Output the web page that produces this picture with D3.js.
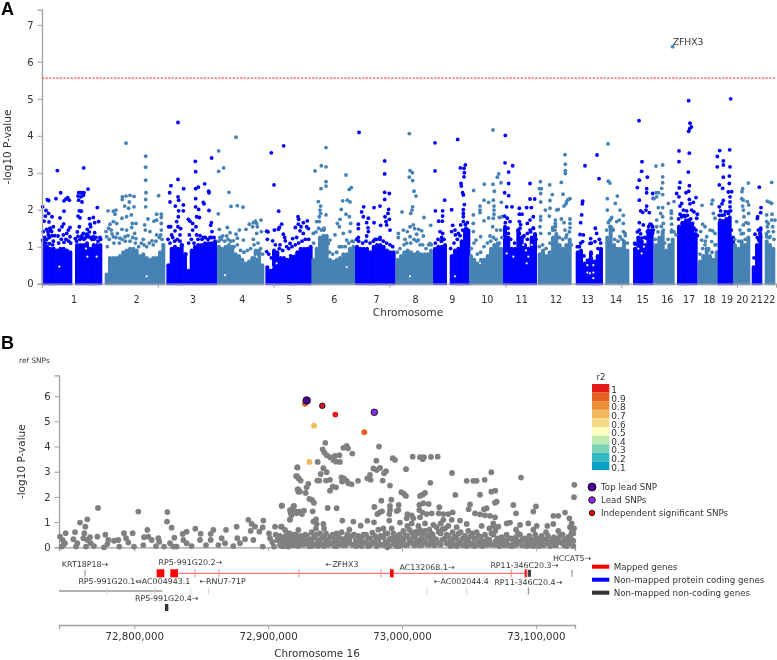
<!DOCTYPE html>
<html>
<head>
<meta charset="utf-8">
<script src="https://cdn.jsdelivr.net/npm/d3@7"></script>
<style>
  html, body { margin: 0; padding: 0; background: #fff; }
  svg { display: block; font-family: "DejaVu Sans", sans-serif; filter: blur(0.3px); }
  text { fill: #333; }
</style>
</head>
<body>
<svg id="chart" width="777" height="660"></svg>
<script>
const mbPerUnit = 500 / 347.5;
const bpPerUnit = 249;
const locusStart = 72743760;

const chromNames = ['1','2','3','4','5','6','7','8','9','10','11','12','13','14','15','16','17','18','19','20','21','22'];
const chromLabelPos = [96,284,453,601,742,877,1004,1121,1231,1336,1439,1542,1637,1722,1802,1876,1941,2002,2055,2101,2144,2182];
const chromStart = [0,189,374,526,671,809,940,1062,1174,1282,1384,1488,1602,1691,1774,1837,1906,1969,2028,2074,2130,2169];

// top of the solid mass of points, every 10 units along each chromosome
const denseTops = [
  [1.15,1.0,.95,.95,.9,.95,.95,.9,.85,0,1.05,1.05,1.05,1.1,.95,1.05,1.05,1.05],
  [0.25,0.7,0.7,0.7,0.75,0.85,0.9,0.95,0.95,0.9,0.75,0.8,0.7,0.65,0.7,0.7,0.85,1.05],
  [0.5,0.95,1.0,.95,1.05,0.8,0.35,0.9,1.0,1.05,1.05,1.1,1.1,1.1,1.15],
  [1.0,.95,1.0,1.05,1.0,0.8,0.75,0.65,0.55,0.6,0.7,0.9,0.9,0.5],
  [0.45,0.35,0.9,0.85,0.7,0.7,0.65,0.75,0.75,0.85,.95,.95,.95,1.0],
  [0.65,.95,1.25,1.3,1.3,0.65,0.6,0.65,0.7,0.8,0.8,.95,1.0],
  [1.0,.95,.95,.95,0.85,1.0,1.05,1.05,1.0,0.9,0.85,0.85],
  [0.65,0.75,0.85,0.9,0.85,0.8,0.85,0.8,0.8,0.8,0.9],
  [.95,1.0,1.0,1.05,0,0.75,0.9,.95,1.15,1.45,1.45],
  [0.75,0.65,0.55,0.65,0.65,0.75,.95,1.05,1.1,.95],
  [1.5,1.25,.95,.95,1.45,1.25,1.05,.95,1.25,1.35],
  [0.8,0.9,0.75,0.85,1.25,1.35,1.05,.95,1.05,1.2],
  [0.85,0.9,0.55,0.65,0.85,0.6,0.75,.95],
  [1.25,1.55,1.05,.95,.95,1.15,0.9],
  [.95,1.25,1.15,1.05,1.45,1.45],
  [1.05,1.25,1.4,0.9,1.05,1.2],
  [1.55,1.65,1.7,1.7,1.55,1.35],
  [0.6,0.75,.95,0.75,0.65,0.85],
  [1.65,1.7,1.75,1.8,1.25],
  [1.05,.95,1.15,1.05,1.25],
  [0.45,1.05,1.35],
  [1.15,1.05,.95]
];

// little white gaps inside the mass: [position, -log10 p]
const massHoles = [[52,.46],[132,.95],[136,.73],[164,.73],[314,.2],[549,.23],[634,.95],[644,.73],[704,.55],[734,.9],[739,.72],[754,.8],[914,.45],[684,.8],[689,.45],[1104,.2],[1239,.2],[1314,.55],[1414,.73],[1444,1.05],[1452,.9],[1459,.73],[1469,1.05],[1454,.55],[1394,.82],[1636,1.1],[1636,.9],[1636,.7],[1636,.5],[1636,.3],[1654,1.0],[1654,.75],[1654,.5],[1654,.3],[1654,.15],[1644,.28],[1799,.82],[1789,.95],[1806,1.0]];

// individual points standing clear of the mass: [position, -log10 p]
const chr1Snps = [[46,3.06],[2,2.08],[16,2.27],[20,2.25],[42,2.3],[56,2.46],[66,2.24],[72,2.29],[77,2.33],[82,2.26],[12,1.98],[20,1.9],[30,1.81],[10,1.83],[66,1.96],[54,1.78],[6,1.69],[21,1.67],[65,1.62],[60,1.54],[34,1.54],[24,1.5],[14,1.47],[4,1.41],[52,1.45],[79,1.45],[84,1.52],[74,1.36],[48,1.29],[29,1.41],[19,1.32],[84,1.27],[2,1.18],[64,1.32],[125,3.13],[138,2.56],[166,2.06],[110,2.46],[116,2.46],[120,2.46],[126,2.46],[108,2.37],[117,2.35],[124,2.39],[110,2.26],[120,2.21],[112,1.97],[118,1.96],[108,1.83],[114,1.78],[154,1.79],[142,1.76],[170,1.68],[158,1.65],[144,1.61],[136,1.47],[146,1.54],[112,1.54],[106,1.4],[124,1.36],[142,1.4],[134,1.34],[158,1.38],[119,1.25],[174,1.25],[100,1.22],[154,1.27],[8,1.25],[14,1.2],[18,1.4],[22,1.25],[26,1.45],[30,1.3],[34,1.15],[38,1.3],[12,1.1],[22,1.08],[32,1.05],[50,1.1],[58,1.2],[66,1.12],[72,1.2],[80,1.15],[86,1.1],[104,1.15],[108,1.28],[114,1.2],[120,1.3],[126,1.2],[132,1.25],[138,1.3],[144,1.25],[150,1.2],[156,1.2],[162,1.25],[168,1.15],[176,1.2]];
const chr2Snps = [[252,3.8],[311,3.45],[311,3.15],[311,2.8],[312,2.46],[311,2.28],[311,2.08],[350,2.38],[241,2.35],[241,2.28],[252,2.37],[264,2.39],[276,2.36],[262,2.21],[248,2.1],[276,2.08],[260,2.04],[198,1.97],[214,1.96],[222,1.99],[219,1.88],[344,1.88],[358,1.88],[358,1.79],[344,1.72],[318,1.75],[254,1.81],[240,1.77],[268,1.86],[271,1.63],[282,1.63],[336,1.69],[308,1.59],[214,1.68],[224,1.63],[204,1.61],[192,1.41],[200,1.5],[208,1.45],[226,1.36],[240,1.47],[254,1.45],[269,1.52],[278,1.36],[310,1.45],[324,1.41],[344,1.32],[358,1.45],[356,1.32],[194,1.27],[214,1.27],[234,1.23],[249,1.27],[282,1.22],[304,1.2],[330,1.16],[358,1.63],[196,1.0],[202,1.2],[210,1.35],[216,1.1],[222,1.25],[232,1.1],[240,1.2],[250,1.15],[258,1.3],[264,1.15],[272,1.25],[280,1.1],[290,1.0],[298,1.1],[306,1.05],[314,1.0],[322,1.1],[334,1.05],[342,1.15],[352,1.25],[360,1.2],[364,1.05]];
const chr3Snps = [[408,4.36],[460,3.31],[509,3.4],[461,3.03],[408,2.82],[387,2.65],[425,2.57],[461,2.57],[469,2.61],[488,2.7],[500,2.5],[501,2.46],[383,2.46],[408,2.35],[410,2.26],[384,2.21],[461,2.3],[424,2.13],[484,2.2],[486,2.16],[400,2.1],[410,1.97],[424,1.97],[461,2.08],[470,2.01],[501,1.98],[464,1.81],[472,1.79],[409,1.81],[404,1.68],[439,1.74],[444,1.69],[452,1.63],[508,1.65],[506,1.58],[386,1.54],[380,1.54],[408,1.54],[416,1.49],[399,1.43],[452,1.45],[462,1.54],[510,1.41],[442,1.32],[464,1.32],[484,1.25],[504,1.25],[414,1.32],[389,1.32],[378,1.2],[384,1.1],[392,1.25],[398,1.15],[406,1.2],[414,1.15],[420,1.05],[432,.8],[440,1.1],[448,1.2],[456,1.1],[468,1.2],[474,1.3],[480,1.2],[490,1.25],[498,1.2],[508,1.25],[516,1.25]];
const chr4Snps = [[582,3.96],[530,3.59],[545,3.13],[530,3.04],[561,2.47],[567,2.09],[586,2.11],[603,2.07],[529,1.89],[657,1.72],[640,1.69],[644,1.63],[634,1.65],[622,1.61],[632,1.54],[646,1.54],[612,1.47],[592,1.45],[532,1.47],[556,1.52],[564,1.38],[582,1.34],[542,1.29],[534,1.25],[554,1.29],[586,1.23],[644,1.36],[658,1.41],[634,1.2],[604,1.18],[574,1.16],[530,1.15],[538,1.2],[548,1.15],[558,1.2],[566,1.15],[576,1.0],[586,1.05],[596,.9],[606,.85],[616,.9],[626,.95],[636,1.05],[648,1.1],[656,.95],[662,.8]];
const chr5Snps = [[688,3.54],[725,3.73],[696,2.67],[710,1.96],[768,1.81],[770,1.74],[796,1.7],[784,1.65],[769,1.61],[777,1.54],[760,1.52],[794,1.54],[799,1.49],[719,1.61],[712,1.52],[697,1.45],[709,1.47],[678,1.4],[674,1.42],[724,1.34],[728,1.25],[730,1.16],[676,1.2],[692,1.16],[774,1.43],[784,1.36],[764,1.25],[752,1.22],[744,1.09],[734,1.0],[714,1.05],[674,.87],[680,.8],[688,.7],[700,1.05],[712,.95],[722,.9],[740,.95],[750,1.0],[760,1.05],[770,1.1],[780,1.15],[790,1.2],[800,1.2]];
const chr6Snps = [[852,3.68],[838,3.19],[852,3.16],[819,3.05],[912,2.94],[852,2.76],[852,2.64],[837,2.57],[922,2.55],[928,2.6],[902,2.24],[916,2.26],[924,2.21],[829,2.22],[836,2.1],[834,1.99],[836,1.9],[832,1.81],[852,1.86],[898,2.01],[912,1.88],[922,1.81],[824,1.68],[832,1.68],[894,1.74],[886,1.63],[892,1.54],[926,1.63],[924,1.41],[814,1.36],[846,1.45],[859,1.09],[879,1.32],[864,1.18],[904,1.36],[914,1.18],[934,1.14],[815,1.1],[822,1.4],[830,1.5],[838,1.45],[846,1.5],[852,1.2],[862,.85],[872,.8],[884,.85],[892,1.0],[900,1.0],[910,1.0],[920,1.1],[930,1.15]];
const chr7Snps = [[951,4.09],[1028,3.32],[1028,2.97],[1028,2.47],[1042,2.44],[1028,2.28],[965,2.08],[996,2.06],[1014,2.1],[1040,2.01],[959,1.94],[964,1.81],[979,1.77],[1029,1.81],[1038,1.9],[949,1.61],[949,1.49],[996,1.65],[974,1.65],[1032,1.68],[1042,1.74],[1016,1.58],[978,1.51],[979,1.41],[1034,1.59],[1044,1.45],[949,1.25],[974,1.29],[1014,1.25],[999,1.2],[944,1.2],[950,1.15],[962,1.1],[972,1.15],[984,1.1],[994,1.15],[1004,1.2],[1014,1.2],[1024,1.15],[1034,1.1],[1044,1.05],[1052,1.0]];
const chr8Snps = [[1102,4.06],[1104,3.06],[1111,3.0],[1102,2.88],[1112,2.79],[1116,2.5],[1122,2.37],[1112,2.08],[1110,1.99],[1106,1.9],[1080,1.94],[1146,1.79],[1166,1.58],[1114,1.59],[1104,1.54],[1118,1.49],[1084,1.45],[1069,1.36],[1130,1.47],[1139,1.43],[1096,1.41],[1124,1.34],[1104,1.27],[1089,1.2],[1069,1.25],[1144,1.29],[1164,1.09],[1129,1.18],[1066,.85],[1074,.95],[1086,1.05],[1094,1.1],[1106,1.1],[1116,1.2],[1124,1.15],[1134,1.05],[1142,1.05],[1152,.95],[1160,1.05],[1168,1.05]];
const chr9Snps = [[1179,3.81],[1179,3.05],[1208,2.26],[1180,1.97],[1202,1.97],[1202,1.83],[1190,1.69],[1201,1.69],[1194,1.41],[1202,1.36],[1199,1.25],[1199,1.16],[1247,3.9],[1270,3.21],[1266,3.12],[1255,3.13],[1267,3.0],[1266,2.89],[1257,2.71],[1258,2.64],[1262,2.46],[1264,2.4],[1267,2.14],[1229,2.0],[1264,2.0],[1264,1.9],[1264,1.81],[1264,1.68],[1232,1.58],[1256,1.59],[1229,1.41],[1239,1.45],[1249,1.36],[1240,1.32],[1272,1.5],[1180,1.1],[1188,1.2],[1198,1.15],[1206,1.2],[1226,.95],[1236,1.1],[1246,1.2],[1254,1.3],[1262,1.45],[1270,1.6],[1276,1.65]];
const chr10Snps = [[1353,4.16],[1295,2.52],[1327,2.69],[1353,2.69],[1377,2.73],[1370,2.97],[1366,2.88],[1357,2.5],[1326,2.26],[1354,2.26],[1314,2.1],[1314,1.99],[1314,1.92],[1340,2.2],[1378,2.2],[1356,2.1],[1356,1.99],[1356,1.88],[1294,1.86],[1326,1.7],[1340,1.78],[1372,1.79],[1380,1.81],[1354,1.77],[1294,1.63],[1352,1.54],[1294,1.41],[1364,1.45],[1376,1.45],[1316,1.27],[1344,1.29],[1302,1.18],[1288,.95],[1296,1.1],[1306,.8],[1316,.85],[1326,1.0],[1336,1.1],[1346,1.15],[1354,1.25],[1362,1.2],[1372,1.1],[1380,1.25]];
const chr11Snps = [[1390,4.01],[1389,3.27],[1412,3.19],[1400,3.02],[1400,2.71],[1464,2.71],[1388,2.46],[1400,2.38],[1394,2.08],[1410,2.08],[1464,2.29],[1478,2.29],[1432,2.04],[1454,2.06],[1468,2.06],[1432,1.88],[1440,1.88],[1388,1.83],[1396,1.77],[1404,1.68],[1432,1.68],[1464,1.72],[1474,1.81],[1456,1.63],[1389,1.54],[1434,1.5],[1464,1.45],[1474,1.5],[1444,1.27],[1456,1.36],[1399,1.36],[1432,1.36],[1479,1.32],[1390,1.65],[1398,1.5],[1406,1.2],[1418,1.1],[1428,1.45],[1436,1.6],[1446,1.3],[1456,1.2],[1466,1.4],[1474,1.5],[1482,1.2]];
const chr12Snps = [[1569,3.49],[1570,3.23],[1570,3.06],[1570,2.98],[1495,2.76],[1558,2.74],[1523,2.67],[1492,2.57],[1498,2.57],[1496,2.44],[1531,2.41],[1563,2.42],[1584,2.3],[1578,2.28],[1496,2.21],[1524,2.25],[1574,2.22],[1510,1.99],[1524,2.04],[1544,1.99],[1549,2.01],[1566,2.1],[1572,2.16],[1496,1.81],[1496,1.72],[1522,1.83],[1558,1.75],[1540,1.72],[1584,1.75],[1540,1.63],[1566,1.65],[1584,1.63],[1584,1.51],[1532,1.52],[1494,1.54],[1539,1.45],[1569,1.45],[1522,1.36],[1574,1.32],[1496,1.36],[1492,1.0],[1502,1.05],[1512,.95],[1524,1.1],[1532,1.45],[1540,1.55],[1552,1.25],[1562,1.2],[1572,1.25],[1582,1.4],[1588,1.05]];
const chr13Snps = [[1665,3.48],[1629,3.19],[1671,2.84],[1622,2.23],[1621,2.16],[1619,1.86],[1616,1.65],[1660,1.5],[1664,1.36],[1614,1.33],[1624,1.32],[1646,1.22],[1622,1.14],[1672,1.2],[1612,1.0],[1659,1.14],[1644,1.09],[1606,1.0],[1616,1.1],[1626,.75],[1648,1.1],[1668,.95],[1676,1.1]];
const chr14Snps = [[1698,3.78],[1699,2.77],[1704,2.72],[1726,2.37],[1696,2.3],[1720,2.17],[1696,1.99],[1734,1.99],[1744,1.85],[1709,1.79],[1706,1.74],[1732,1.72],[1724,1.68],[1744,1.63],[1699,1.65],[1744,1.41],[1749,1.36],[1714,1.45],[1704,1.54],[1734,1.27],[1694,1.45],[1702,1.7],[1710,1.5],[1718,1.2],[1728,1.15],[1740,1.2],[1750,1.3],[1756,1.1]];
const chr15Snps = [[1791,4.41],[1800,3.3],[1799,3.04],[1792,2.8],[1816,2.88],[1786,2.6],[1814,2.57],[1814,2.46],[1792,2.26],[1832,2.44],[1834,2.31],[1796,1.97],[1802,1.93],[1814,2.1],[1812,1.99],[1822,1.92],[1792,1.65],[1804,1.59],[1824,1.61],[1832,1.54],[1792,1.45],[1816,1.41],[1832,1.38],[1780,1.07],[1799,1.23],[1814,1.23],[1778,1.1],[1786,1.4],[1796,1.35],[1808,1.25],[1820,1.55],[1828,1.6],[1834,1.45]];
const chr16Snps = [[1892,6.41],[1842,3.18],[1862,3.21],[1862,2.89],[1862,2.73],[1842,2.46],[1850,2.46],[1844,2.35],[1836,2.3],[1859,2.58],[1862,2.41],[1879,2.17],[1896,2.22],[1849,2.06],[1862,2.06],[1888,1.97],[1888,1.9],[1888,1.77],[1856,1.9],[1862,1.81],[1844,1.72],[1864,1.63],[1889,1.61],[1889,1.45],[1902,1.32],[1844,1.54],[1864,1.45],[1840,1.2],[1848,1.4],[1858,1.55],[1868,1.1],[1878,1.2],[1888,1.4],[1896,1.4]];
const chr17Snps = [[1940,4.95],[1944,4.34],[1948,4.24],[1943,4.19],[1940,4.12],[1911,3.59],[1942,3.53],[1911,3.3],[1939,3.02],[1914,2.74],[1942,2.65],[1912,2.59],[1940,2.5],[1932,2.46],[1904,2.44],[1911,2.35],[1962,2.33],[1942,2.28],[1954,2.2],[1919,2.17],[1914,2.1],[1944,2.16],[1924,1.99],[1934,1.97],[1949,1.99],[1956,1.94],[1966,1.88],[1964,1.77],[1914,1.88],[1919,1.81],[1929,1.81],[1939,1.72],[1952,1.63],[1962,1.45],[1910,1.75],[1918,1.85],[1926,1.85],[1936,1.85],[1946,1.75],[1956,1.5],[1966,1.3]];
const chr18Snps = [[1980,2.12],[2012,2.26],[2009,2.16],[2014,1.9],[2019,1.77],[1982,1.61],[1989,1.54],[1976,1.41],[2004,1.45],[2012,1.43],[2019,1.36],[1994,1.27],[1979,1.18],[2009,1.14],[1989,1.05],[2019,1.05],[1999,.91],[1974,.8],[1982,.95],[1990,1.15],[2000,.95],[2010,.85],[2022,1.05]];
const chr19Snps = [[2066,5.0],[2063,3.62],[2033,3.6],[2026,3.44],[2026,3.16],[2044,3.32],[2044,3.21],[2064,3.16],[2062,2.91],[2044,2.88],[2062,2.71],[2032,2.67],[2042,2.58],[2059,2.48],[2069,2.49],[2064,2.35],[2044,2.25],[2040,2.16],[2064,2.21],[2032,2.08],[2036,1.97],[2064,2.08],[2066,1.97],[2047,1.86],[2059,1.9],[2034,1.72],[2032,1.85],[2040,1.85],[2050,1.95],[2060,1.95],[2068,1.45]];
const chr20Snps = [[2119,2.72],[2102,2.57],[2100,2.49],[2099,2.3],[2104,2.26],[2116,2.22],[2120,2.13],[2102,2.1],[2104,1.99],[2120,1.9],[2084,1.68],[2106,1.81],[2112,1.65],[2119,1.63],[2104,1.59],[2122,1.45],[2094,1.45],[2104,1.36],[2078,1.2],[2090,1.15],[2098,1.35],[2110,1.2],[2120,1.45]];
const chr21Snps = [[2152,2.61],[2157,2.06],[2156,1.92],[2147,1.81],[2146,1.76],[2149,1.45],[2156,1.45],[2139,1.34],[2154,1.36],[2150,1.18],[2156,1.25],[2136,.7],[2146,1.25],[2156,1.5]];
const chr22Snps = [[2189,2.74],[2176,2.23],[2184,2.2],[2189,2.17],[2174,1.86],[2190,1.88],[2174,1.68],[2179,1.63],[2189,1.72],[2199,1.72],[2176,1.54],[2192,1.54],[2179,1.41],[2194,1.41],[2184,1.27],[2174,1.27],[2173,1.35],[2182,1.25],[2196,1.2]];
const chromSnps = [chr1Snps,chr2Snps,chr3Snps,chr4Snps,chr5Snps,chr6Snps,chr7Snps,chr8Snps,chr9Snps,chr10Snps,chr11Snps,chr12Snps,chr13Snps,chr14Snps,chr15Snps,chr16Snps,chr17Snps,chr18Snps,chr19Snps,chr20Snps,chr21Snps,chr22Snps];

const genomeTicks = [0,500,1000,1500,2000,2500,3000];
const genomeEnd = 2202 * mbPerUnit;
const threshold = 5.56;

// panel B, left part of the locus
const locusSnpsLeft = [[3,.42],[11,.29],[20,.56],[18,.16],[8,.03],[13,.09],[48,.6],[43,.32],[51,.03],[55,.16],[63,.98],[79,.82],[85,1.11],[76,.56],[73,.36],[85,.29],[81,.03],[93,.4],[95,.16],[105,.05],[115,.42],[117,1.56],[135,0],[139,.5],[148,.29],[145,.13],[165,.26],[178,.29],[181,.03],[195,.56],[201,.36],[208,.19],[221,.56],[225,.03],[238,1.42],[253,.09],[255,.4],[265,.69],[268,.42],[278,.29],[291,.05],[298,.36],[301,.22],[315,.03],[325,1.4],[324,1.02],[338,.78],[333,.16],[343,.03],[346,.38],[353,.03],[371,.53],[383,.62],[373,.29],[383,.16],[398,.05],[409,.74],[425,.54],[423,.29],[441,.09],[455,.53],[463,.69],[455,.29],[478,.09],[488,.36],[501,.69],[498,.16],[523,.05],[533,.82],[535,.36],[543,.16],[558,.32],[568,1.09],[578,.93],[575,.65],[588,.82],[583,.29],[601,.62],[613,1.06],[611,.79],[611,.03],[633,.36],[648,.82],[645,.03],[655,.29],[668,1.64],[666,.82],[678,.69],[685,.56],[693,.29],[688,.03],[703,1.62],[698,1.48],[695,1.35],[693,1.09],[715,3.17],[711,2.83],[718,2.74],[716,2.3],[718,2.21],[713,1.42],[718,.69],[715,.36],[630,.55],[640,.2],[650,.5],[660,.4],[672,.15],[680,.45],[705,.5]];

// panel B, the loose points above the low band
const locusSnpsUpper = [[799,4.15],[791,3.89],[796,3.76],[803,3.66],[813,3.58],[828,3.63],[841,3.66],[823,3.47],[831,3.4],[843,3.39],[853,3.95],[863,4.03],[867,3.93],[880,3.72],[960,4.0],[952,3.44],[1001,3.54],[1008,3.47],[1061,3.6],[1083,3.58],[1091,3.5],[1095,3.58],[1116,3.59],[1136,3.6],[776,3.39],[715,3.17],[793,3.14],[785,2.91],[803,2.98],[943,3.13],[953,3.07],[963,3.15],[981,3.02],[975,2.94],[1041,3.1],[1179,2.95],[1297,2.98],[1386,2.77],[1223,2.64],[1243,2.64],[1253,2.64],[1277,2.68],[714,2.83],[719,2.74],[725,2.65],[775,2.65],[781,2.65],[801,2.65],[813,2.68],[847,2.78],[855,2.74],[849,2.61],[863,2.64],[868,2.54],[878,2.5],[897,2.64],[925,2.74],[933,2.87],[935,2.68],[971,2.65],[993,2.45],[1114,2.56],[748,2.52],[743,2.38],[718,2.3],[723,2.21],[740,2.16],[813,2.25],[821,2.41],[831,2.38],[1027,2.19],[1035,2.12],[1041,2.04],[1083,2.04],[1091,2.09],[1098,2.16],[1189,2.08],[1263,2.09],[1297,2.21],[1309,2.25],[1546,2.48],[1545,1.99],[751,1.92],[759,1.88],[765,1.77],[967,1.85],[997,1.89],[1019,1.68],[1308,1.77],[1313,1.81],[1363,1.68],[1431,1.62],[1233,1.7],[1283,1.55],[1275,1.51],[1229,1.51],[669,1.66],[705,1.64],[806,1.56],[833,1.55],[946,1.6],[993,1.64],[1018,1.48],[1093,1.75],[1109,1.72],[1081,1.68],[1141,1.59],[1423,1.42],[1371,1.35],[693,1.48],[703,1.42],[723,1.42],[735,1.46],[761,1.43],[698,1.28],[713,1.35],[729,1.32],[961,1.38],[969,1.43],[955,1.32],[993,1.48],[991,1.32],[1013,1.44],[1045,1.32],[1058,1.27],[1081,1.48],[1091,1.38],[1103,1.32],[1118,1.35],[1139,1.35],[1153,1.32],[1168,1.32],[1181,1.39],[1248,1.35],[1263,1.31],[1278,1.27],[1293,1.25],[1308,1.19],[1483,1.25],[1498,1.25],[1518,1.38],[1531,1.15],[693,1.11],[771,1.11],[850,1.06],[883,1.02],[925,1.05],[945,.99],[905,.86],[991,1.06],[1023,.98],[1043,1.15],[1063,1.15],[1083,1.19],[1123,.89],[1153,1.09],[1178,1.09],[1203,1.06],[1223,.93],[1268,.85],[1303,.95],[1318,.82],[1343,.95],[1353,.98],[1383,.89],[1408,.95],[1433,.85],[1465,.85],[1483,.93],[1538,.95],[1545,.75],[763,1.02],[773,.93],[793,.93],[668,.82]];

// panel B, low band as position + the values stacked there
const locusLowPos = [663,675,688,698,711,718,733,745,758,771,783,795,808,821,833,848,860,871,885,898,908,921,933,948,958,973,985,998,1008,1021,1033,1045,1058,1068,1078,1088,1098,1111,1121,1133,1145,1158,1168,1181,1193,1205,1218,1228,1241,1253,1265,1278,1291,1303,1315,1328,1343,1358,1371,1383,1398,1411,1423,1435,1448,1461,1473,1485,1498,1511,1523,1533,1543];
const locusLowVals = [[.45,.1],[.25,.05],[.35,.1],[.5,.15],[.5,.2],[.3,.05],[.1,.4],[.45,.15],[.6,.25,.05],[.75,.5,.1],[.55,.2],[.75,.4,.05],[.3,.1],[.5,.15],[.55,.25,.05],[.6,.2],[.35,.08],[.7,.3],[.5,.1],[.45,.15],[.05,.35],[.5,.2],[.35,.08],[.45,.15],[.7,.3],[.75,.4,.1],[.55,.15,0],[.75,.35],[.45,.1],[.5,.2,.05],[.65,.3],[.85,.45,.1],[.95,.6,.2],[.45,.08],[.85,.55,.2],[.35,.1],[.95,.65,.25],[.7,.4,.1],[.5,.2],[.8,.3],[.95,.55,.1],[.75,.35],[.85,.45,.15],[.6,.2],[.8,.35,.05],[.6,.2],[.45,.1],[.65,.25],[.55,.15],[.6,.1],[.4,.08],[.5,.2],[.75,.3],[.85,.5,.1],[.35,.1],[.4,.15],[.5,.2],[.35,.05],[.7,.4,.1],[.5,.15],[.35,.08],[.45,.2],[.7,.3,.05],[.35,.1],[.45,.15],[.6,.3],[.2,.05],[.4,.1],[.65,.35],[.5,.15],[.3,.05],[.8,.45,.15],[.55,.25,.05]];
const locusFillPos = [669,681,692,704,714,726,739,751,764,777,789,801,814,827,840,854,865,878,891,903,914,927,940,953,965,979,991,1003,1014,1027,1039,1051,1063,1073,1083,1093,1104,1116,1127,1139,1151,1163,1175,1187,1199,1211,1223,1234,1247,1259,1271,1284,1297,1309,1321,1335,1350,1364,1377,1390,1404,1417,1429,1441,1454,1467,1479,1491,1504,1517,1528,1538];
const locusFillVals = [[.3,.05],[.4,.15],[.2,.55],[.3,.08],[.35,.1],[.45,.2],[.25,.5],[.3,.05],[.4,.12],[.28,.05],[.38,.1],[.22,.55],[.42,.15],[.32,.05],[.4,.1],[.32,.08],[.5,.2],[.45,.12],[.28,.05],[.3,.08],[.5,.18],[.35,.05],[.58,.2],[.3,.05],[.45,.12],[.55,.2],[.32,.05],[.55,.18],[.3,.05],[.35,.12],[.48,.1],[.7,.28],[.42,.12],[.62,.25],[.7,.3,.08],[.55,.2],[.45,.12],[.55,.22],[.33,.08],[.62,.15],[.72,.3],[.5,.15],[.32,.05],[.42,.1],[.55,.15],[.35,.08],[.28,.05],[.42,.1],[.35,.05],[.45,.2],[.22,.05],[.32,.1],[.55,.12],[.65,.22],[.2,.05],[.28,.08],[.35,.08],[.2,.08],[.55,.22],[.3,.08],[.22,.05],[.3,.08],[.5,.15],[.22,.05],[.3,.08],[.45,.15],[.1,.3],[.25,.08],[.48,.2],[.32,.08],[.15,.4],[.6,.3]];

// LD-coloured SNPs: [position, -log10 p, r2]
const ldSnps = [[738,5.7,.9],[829,5.27,1],[916,4.57,.85],[765,4.83,.7],[751,3.39,.65]];
const leadSnps = [[946,5.36]];
const topLeadSnps = [[743,5.83]];
const independentSnps = [[790,5.62]];

const r2Levels = [1,.9,.8,.7,.6,.5,.4,.3,.2,.1];
const r2Colors = ['#e31a1c','#e6601f','#ec8c35','#f1b75f','#f6da8a','#ffffc0','#c0ebb0','#7dd4b4','#35b8c0','#079fc8'];
const locusTicks = [72800000,72900000,73000000,73100000];
const locusEnd = locusStart + 1548 * bpPerUnit;

// gene track: [start, end] in position units
const geneLine = [358,1403];
const redExons = [[293,316],[334,357],[993,1004],[1397,1403]];
const redMarks = [408,480,720,966,1357];
const krtGene = [77,79];
const hccatGene = [1538,1540];
const rc3Gene = [1406,1416];
const longGeneRow = [0,310];
const lightMarks = [145,288,395,449,1104,1223];
const g4Gene = [318,328];
const rc4Mark = [1408];
const geneLabels = [
  ['KRT18P18→',78,563.7],['RP5-991G20.2→',394,561.7],['RP5-991G20.1⇔AC004943.1',226,580.7],['←RNU7-71P',491,580.7],
  ['RP5-991G20.4→',323,597.7],['←ZFHX3',849,563.7],['AC132068.1→',1104,567],['←AC002044.4',1207,580.7],
  ['RP11-346C20.3→',1396,565.3],['RP11-346C20.4→',1408,582.3],['HCCAT5→',1539,558.3]
];
const geneLegend = [['Mapped genes','red'],['Non-mapped protein coding genes','blue'],['Non-mapped non-coding genes','#333']];
const snpLegend = [['Top lead SNP','#4b0092',4],['Lead SNPs','#8a2be2',3.3],['Independent significant SNPs','#f00',2.7]];

let svg = d3.select('#chart');
let axisGrey = '#a0a0a0';

function styleAxis(g, size) {
  g.selectAll('path').attr('stroke', axisGrey).attr('stroke-width', 1.3);
  g.selectAll('line').attr('stroke', axisGrey).attr('stroke-width', 1);
  g.selectAll('text').attr('fill', '#333').style('font-size', size + 'px').style('font-family', '"DejaVu Sans"');
}

// ---- panel A ----
let genomeX = d3.scaleLinear().domain([0, genomeEnd]).range([42, 776]);
let manhY = d3.scaleLinear().domain([0, 7.41]).range([283.7, 9.7]);
let u2x = (u) => genomeX(u * mbPerUnit);
let chromColor = (i) => i % 2 === 0 ? '#0000ff' : '#4682b4';

denseTops.forEach((tops, i) => {
  let bars = tops.map((d, j) => ({pos: chromStart[i] + j * 10, top: d})).filter((d) => d.top > 0);
  let g = svg.append('g').attr('fill', chromColor(i));

  g.selectAll('rect')
    .data(bars)
    .enter()
    .append('rect')
    .attr('x', (d) => u2x(d.pos) - 0.3)
    .attr('width', u2x(10) - u2x(0) + 0.6)
    .attr('y', (d) => manhY(d.top))
    .attr('height', (d) => manhY(0) - manhY(d.top) + 1.5);

  // round caps so the top edge stays bumpy like stacked points
  g.selectAll('circle')
    .data(bars)
    .enter()
    .append('circle')
    .attr('cx', (d) => u2x(d.pos + 5))
    .attr('cy', (d) => manhY(d.top))
    .attr('r', 1.9);
});

svg.append('g').selectAll('circle')
  .data(massHoles)
  .enter()
  .append('circle')
  .attr('cx', (d) => u2x(d[0]))
  .attr('cy', (d) => manhY(d[1]))
  .attr('r', 1.1)
  .attr('fill', '#fff');

chromSnps.forEach((snps, i) => {
  svg.append('g').selectAll('circle')
    .data(snps)
    .enter()
    .append('circle')
    .attr('cx', (d) => u2x(d[0]))
    .attr('cy', (d) => manhY(d[1]))
    .attr('r', 1.9)
    .attr('fill', chromColor(i));
});

let xAxisA = svg.append('g')
  .attr('transform', `translate(0,${manhY(0)})`)
  .call(d3.axisBottom(genomeX).tickValues(genomeTicks).tickFormat('').tickSize(4).tickSizeOuter(4));
styleAxis(xAxisA, 10);

let yAxisA = svg.append('g')
  .attr('transform', `translate(${genomeX(0)},0)`)
  .call(d3.axisLeft(manhY).tickValues(d3.range(0, 8)).tickFormat(d3.format('d')).tickSize(4.5).tickPadding(4));
styleAxis(yAxisA, 10);

svg.append('line')
  .attr('x1', genomeX(0)).attr('x2', genomeX(genomeEnd))
  .attr('y1', manhY(threshold)).attr('y2', manhY(threshold))
  .attr('stroke', '#ff4040').attr('stroke-width', 1.2).attr('stroke-dasharray', '2,1.6');

svg.append('g').selectAll('text')
  .data(chromNames)
  .enter()
  .append('text')
  .text((d) => d)
  .attr('x', (d, i) => u2x(chromLabelPos[i]))
  .attr('y', 302.5)
  .attr('text-anchor', 'middle')
  .style('font-size', '9.6px');

svg.append('text').text('ZFHX3').attr('x', 672.7).attr('y', 45).style('font-size', '9.2px');
svg.append('text').text('Chromosome').attr('x', 408).attr('y', 316).attr('text-anchor', 'middle').style('font-size', '10.6px');
svg.append('text').text('-log10 P-value')
  .attr('transform', 'translate(11,147) rotate(-90)')
  .attr('text-anchor', 'middle')
  .style('font-size', '10.5px');
svg.append('text').text('A').attr('x', 1).attr('y', 15)
  .style('font-family', '"Liberation Sans"').style('font-weight', 'bold').style('font-size', '18px').style('fill', '#000');
svg.append('text').text('B').attr('x', 1).attr('y', 349)
  .style('font-family', '"Liberation Sans"').style('font-weight', 'bold').style('font-size', '18px').style('fill', '#000');

// ---- panel B ----
let locusX = d3.scaleLinear().domain([locusStart, locusEnd]).range([59, 575]);
let locusY = d3.scaleLinear().domain([0, 6.83]).range([547.3, 375.3]);
let p2x = (u) => locusX(locusStart + u * bpPerUnit);

let yAxisB = svg.append('g')
  .attr('transform', `translate(${locusX(locusStart)},0)`)
  .call(d3.axisLeft(locusY).tickValues(d3.range(0, 7)).tickFormat(d3.format('d')).tickSize(4.5).tickPadding(4));
styleAxis(yAxisB, 10);

let xAxisB = svg.append('g')
  .attr('transform', `translate(0,${locusY(0)})`)
  .call(d3.axisBottom(locusX).tickValues(locusTicks).tickFormat('').tickSize(4).tickSizeOuter(4));
styleAxis(xAxisB, 10);

let lowPts = [];
locusLowPos.forEach((p, i) => locusLowVals[i].forEach((v) => lowPts.push([p, v])));
locusFillPos.forEach((p, i) => locusFillVals[i].forEach((v) => lowPts.push([p, v])));
let greyPts = locusSnpsLeft.concat(locusSnpsUpper, lowPts);

svg.append('g').selectAll('circle')
  .data(greyPts)
  .enter()
  .append('circle')
  .attr('cx', (d) => p2x(d[0]))
  .attr('cy', (d) => locusY(d[1]))
  .attr('r', 2.9)
  .attr('fill', '#808080');

let r2Color = d3.scaleThreshold().domain([.15,.25,.35,.45,.55,.65,.75,.85,.95]).range(r2Colors.slice().reverse());
svg.append('g').selectAll('circle')
  .data(ldSnps)
  .enter()
  .append('circle')
  .attr('cx', (d) => p2x(d[0]))
  .attr('cy', (d) => locusY(d[1]))
  .attr('r', 2.9)
  .attr('fill', (d) => r2Color(d[2]));

let ringed = [[independentSnps, '#e0101a', 2.8], [leadSnps, '#8a2be2', 3.3], [topLeadSnps, '#4b0092', 3.8]];
ringed.forEach((r) => {
  svg.append('g').selectAll('circle')
    .data(r[0])
    .enter()
    .append('circle')
    .attr('cx', (d) => p2x(d[0]))
    .attr('cy', (d) => locusY(d[1]))
    .attr('r', r[2])
    .attr('fill', r[1])
    .attr('stroke', '#111')
    .attr('stroke-width', 0.9);
});

svg.append('text').text('ref SNPs').attr('x', 19).attr('y', 363).style('font-size', '7.4px');
svg.append('text').text('-log10 P-value')
  .attr('transform', 'translate(25,461.7) rotate(-90)')
  .attr('text-anchor', 'middle')
  .style('font-size', '10.5px');

// gene track
let genes = svg.append('g');
let geneY = 573.3, row2Y = 591, row3Y = 607.5;
genes.append('line')
  .attr('x1', p2x(geneLine[0])).attr('x2', p2x(geneLine[1]))
  .attr('y1', geneY).attr('y2', geneY)
  .attr('stroke', '#f55').attr('stroke-width', 1);
genes.selectAll('rect.exon')
  .data(redExons)
  .enter()
  .append('rect')
  .attr('class', 'exon')
  .attr('x', (d) => p2x(d[0]))
  .attr('width', (d) => p2x(d[1]) - p2x(d[0]))
  .attr('y', geneY - 4)
  .attr('height', 8)
  .attr('fill', '#f00');
genes.selectAll('line.mark')
  .data(redMarks)
  .enter()
  .append('line')
  .attr('class', 'mark')
  .attr('x1', (d) => p2x(d)).attr('x2', (d) => p2x(d))
  .attr('y1', geneY - 4).attr('y2', geneY + 4)
  .attr('stroke', '#f66').attr('stroke-width', 0.8);
[krtGene, hccatGene, rc3Gene].forEach((g) => {
  genes.append('rect')
    .attr('x', p2x(g[0]))
    .attr('width', p2x(g[1]) - p2x(g[0]))
    .attr('y', geneY - 3.5)
    .attr('height', 7)
    .attr('fill', '#444');
});
genes.append('line')
  .attr('x1', p2x(longGeneRow[0])).attr('x2', p2x(longGeneRow[1]))
  .attr('y1', row2Y).attr('y2', row2Y)
  .attr('stroke', '#999').attr('stroke-width', 1.7);
genes.selectAll('line.light')
  .data(lightMarks)
  .enter()
  .append('line')
  .attr('class', 'light')
  .attr('x1', (d) => p2x(d)).attr('x2', (d) => p2x(d))
  .attr('y1', row2Y - 3.5).attr('y2', row2Y + 3.5)
  .attr('stroke', '#ccc').attr('stroke-width', 0.8);
genes.selectAll('line.dark')
  .data(rc4Mark)
  .enter()
  .append('line')
  .attr('class', 'dark')
  .attr('x1', (d) => p2x(d)).attr('x2', (d) => p2x(d))
  .attr('y1', row2Y - 3.5).attr('y2', row2Y + 3.5)
  .attr('stroke', '#555').attr('stroke-width', 0.8);
genes.append('rect')
  .attr('x', p2x(g4Gene[0]))
  .attr('width', p2x(g4Gene[1]) - p2x(g4Gene[0]))
  .attr('y', row3Y - 3.5)
  .attr('height', 7)
  .attr('fill', '#333');
genes.selectAll('text')
  .data(geneLabels)
  .enter()
  .append('text')
  .text((d) => d[0])
  .attr('x', (d) => p2x(d[1]))
  .attr('y', (d) => d[2] + 2.8)
  .attr('text-anchor', 'middle')
  .style('font-size', '7.9px');

let bottomAxis = svg.append('g')
  .attr('transform', 'translate(0,625)')
  .call(d3.axisBottom(locusX).tickValues(locusTicks).tickFormat(d3.format(',')).tickSize(4).tickSizeOuter(4).tickPadding(4));
styleAxis(bottomAxis, 10.2);

svg.append('text').text('Chromosome 16').attr('x', 317).attr('y', 656.5).attr('text-anchor', 'middle').style('font-size', '10.4px');

// r2 legend
let r2Band = d3.scaleBand().domain(r2Levels).range([384, 470]);
svg.append('text').text('r2').attr('x', 596.5).attr('y', 380).style('font-size', '8.6px');
svg.append('g').selectAll('rect')
  .data(r2Levels)
  .enter()
  .append('rect')
  .attr('x', 592)
  .attr('y', (d) => r2Band(d))
  .attr('width', 17.3)
  .attr('height', r2Band.bandwidth())
  .attr('fill', (d, i) => r2Colors[i]);
svg.append('g').selectAll('text')
  .data(r2Levels)
  .enter()
  .append('text')
  .text((d) => d)
  .attr('x', 611.3)
  .attr('y', (d) => r2Band(d) + r2Band.bandwidth() + 0.5)
  .style('font-size', '9px');

// snp legend
let snpLegendY = d3.scalePoint().domain(snpLegend.map((d) => d[0])).range([487, 513]);
svg.append('g').selectAll('circle')
  .data(snpLegend)
  .enter()
  .append('circle')
  .attr('cx', 592)
  .attr('cy', (d) => snpLegendY(d[0]))
  .attr('r', (d) => d[2])
  .attr('fill', (d) => d[1])
  .attr('stroke', '#111')
  .attr('stroke-width', 0.9);
svg.append('g').selectAll('text')
  .data(snpLegend)
  .enter()
  .append('text')
  .text((d) => d[0])
  .attr('x', 601)
  .attr('y', (d) => snpLegendY(d[0]) + 3)
  .style('font-size', '8.7px');

// gene legend
let geneLegendY = d3.scalePoint().domain(geneLegend.map((d) => d[0])).range([566.7, 592.7]);
svg.append('g').selectAll('rect')
  .data(geneLegend)
  .enter()
  .append('rect')
  .attr('x', 592)
  .attr('y', (d) => geneLegendY(d[0]) - 2)
  .attr('width', 17.3)
  .attr('height', 4)
  .attr('fill', (d) => d[1]);
svg.append('g').selectAll('text')
  .data(geneLegend)
  .enter()
  .append('text')
  .text((d) => d[0])
  .attr('x', 613.7)
  .attr('y', (d) => geneLegendY(d[0]) + 3)
  .style('font-size', '8.7px');
</script>
</body>
</html>
